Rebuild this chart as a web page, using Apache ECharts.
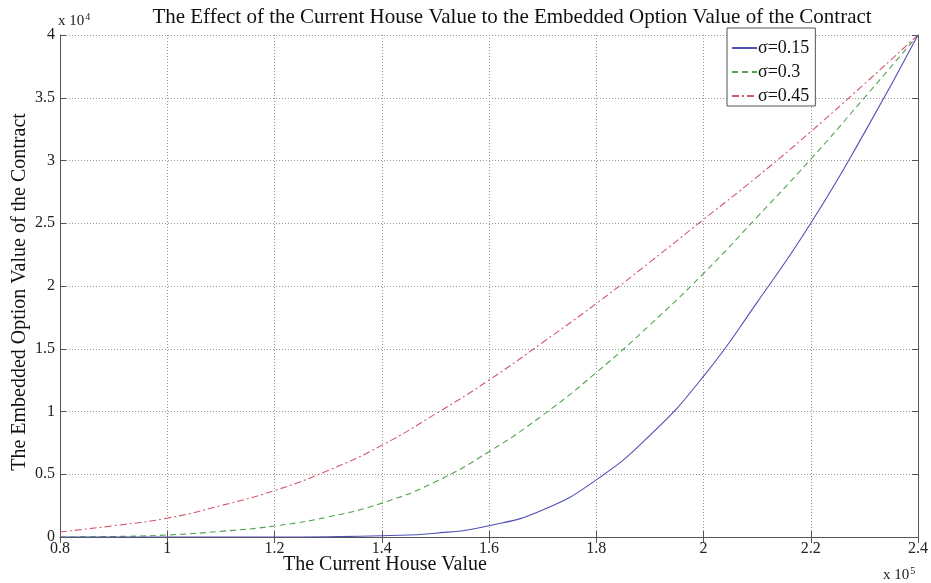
<!DOCTYPE html>
<html>
<head>
<meta charset="utf-8">
<script src="https://cdn.jsdelivr.net/npm/echarts@6/dist/echarts.min.js"></script>
<style>
html,body{margin:0;padding:0;background:#fff;}
#chart{width:931px;height:583px;}
</style>
</head>
<body>
<div id="chart"></div>
<script>
// House values (x), in units of currency
var houseValues = [80000, 90000, 100000, 110000, 120000, 130000, 140000, 150000, 160000, 170000, 180000, 190000, 200000, 210000, 220000, 230000, 240000];
// Embedded option values for each volatility
var sigma015 = [0, 0, 0, 0, 0, 20, 100, 300, 900, 2150, 4550, 8100, 12800, 18700, 25000, 32200, 40000];
var sigma030 = [0, 40, 160, 450, 880, 1600, 2700, 4400, 6800, 9700, 13100, 16900, 21000, 25500, 30100, 35000, 40000];
var sigma045 = [400, 900, 1500, 2500, 3700, 5300, 7300, 9800, 12500, 15500, 18600, 21900, 25300, 28700, 32300, 36100, 40000];
var seriesNames = ['\u03c3=0.15', '\u03c3=0.3', '\u03c3=0.45'];
var xTicks = {min: 80000, max: 240000, interval: 20000};
var yTicks = {min: 0, max: 40000, interval: 5000};

function pairs(xs, ys){ return xs.map(function(x,i){ return [x, ys[i]]; }); }
var serif = 'Liberation Serif, Times New Roman, serif';
var chart = echarts.init(document.getElementById('chart'));
var axisCommon = {
  type: 'value',
  axisLine: {show: true, lineStyle: {color: '#555', width: 1}},
  axisTick: {show: true, inside: true, length: 6, lineStyle: {color: '#555'}},
  splitLine: {show: false}
};
chart.setOption({
  animation: false,
  backgroundColor: '#fff',
  title: {
    text: 'The Effect of the Current House Value to the Embedded Option Value of the Contract',
    left: 507, top: 2, textAlign: 'center',
    textStyle: {fontFamily: serif, fontSize: 21, fontWeight: 'normal', color: '#111'}
  },
  legend: {
    data: seriesNames,
    orient: 'vertical',
    left: 727, top: 28,
    itemWidth: 25, itemHeight: 14, itemGap: 6,
    padding: [11, 6, 1, 4],
    borderColor: '#555', borderWidth: 1, backgroundColor: '#fff',
    itemStyle: {color: 'transparent', borderColor: 'transparent', borderWidth: 0},
    textStyle: {fontFamily: serif, fontSize: 18, color: '#111', padding: [0,0,0,-4]}
  },
  grid: {left: 60, right: 13, top: 35, bottom: 46, containLabel: false, outerBoundsMode: 'none'},
  xAxis: [
    Object.assign({}, axisCommon, {
      min: xTicks.min, max: xTicks.max, interval: xTicks.interval, position: 'bottom',
      axisLabel: {fontFamily: serif, fontSize: 16, color: '#222', margin: 4,
        formatter: function(v){ return String(parseFloat((v/1e5).toFixed(2))); }},
      splitLine: {show: true, lineStyle: {type: [1, 2], color: '#999', width: 1}}
    }),
    Object.assign({}, axisCommon, {
      min: xTicks.min, max: xTicks.max, interval: xTicks.interval, position: 'top',
      axisLabel: {show: false}
    })
  ],
  yAxis: [
    Object.assign({}, axisCommon, {
      min: yTicks.min, max: yTicks.max, interval: yTicks.interval, position: 'left',
      axisLabel: {fontFamily: serif, fontSize: 16, color: '#222', margin: 5,
        formatter: function(v){ return String(parseFloat((v/1e4).toFixed(2))); }},
      splitLine: {show: true, lineStyle: {type: [1, 2], color: '#999', width: 1}}
    }),
    Object.assign({}, axisCommon, {
      min: yTicks.min, max: yTicks.max, interval: yTicks.interval, position: 'right',
      axisLabel: {show: false}
    })
  ],
  graphic: [
    {type: 'text', x: 20, y: 292, rotation: Math.PI / 2, style: {
      text: 'The Embedded Option Value of the Contract',
      font: '20px ' + serif, fill: '#111', align: 'center', verticalAlign: 'middle'}},
    {type: 'text', left: 283, top: 555, style: {
      text: 'The Current House Value',
      font: '20px ' + serif, fill: '#111'}},
    {type: 'text', left: 58, top: 12, style: {
      text: '{a|x 10}{b|4}', rich: {
        a: {fontFamily: serif, fontSize: 15, fill: '#222'},
        b: {fontFamily: serif, fontSize: 10, fill: '#222', verticalAlign: 'top', padding: [0,0,8,1]}
      }}},
    {type: 'text', left: 883, top: 566, style: {
      text: '{a|x 10}{b|5}', rich: {
        a: {fontFamily: serif, fontSize: 15, fill: '#222'},
        b: {fontFamily: serif, fontSize: 10, fill: '#222', verticalAlign: 'top', padding: [0,0,8,1]}
      }}}
  ],
  series: [
    {name: seriesNames[0], type: 'line', data: pairs(houseValues, sigma015), smooth: true, symbol: 'none',
     lineStyle: {color: '#5050b4', width: 1.1, type: 'solid'}, itemStyle: {color: '#5050b4'}, z: 5},
    {name: seriesNames[1], type: 'line', data: pairs(houseValues, sigma030), smooth: true, symbol: 'none',
     lineStyle: {color: '#52a452', width: 1.1, type: [6, 4]}, itemStyle: {color: '#52a452'}, z: 4},
    {name: seriesNames[2], type: 'line', data: pairs(houseValues, sigma045), smooth: true, symbol: 'none',
     lineStyle: {color: '#d5566a', width: 1.1, type: [7, 3, 2, 3]}, itemStyle: {color: '#d5566a'}, z: 3}
  ]
});
</script>
</body>
</html>
